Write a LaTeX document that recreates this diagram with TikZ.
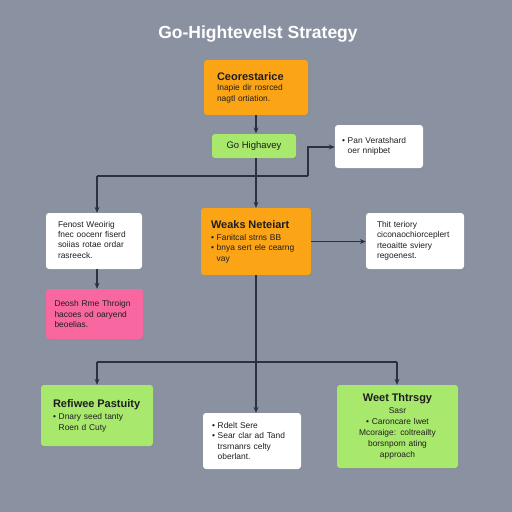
\documentclass[tikz,border=0pt]{standalone}
\usepackage{fontspec}
\setmainfont{Liberation Sans}
\usetikzlibrary{shadows,arrows.meta}
\definecolor{bg}{HTML}{8A92A2}
\definecolor{orng}{HTML}{FBA416}
\definecolor{grn}{HTML}{A8E86C}
\definecolor{pnk}{HTML}{F8679F}
\definecolor{ln}{HTML}{2C3142}
\definecolor{txt}{HTML}{1E1E1E}
\tikzset{
  box/.style={rounded corners=3pt, inner sep=0pt, align=left, text=txt,
    font=\fontsize{8.4}{10.4}\selectfont,
    drop shadow={opacity=0.22, shadow xshift=1.2pt, shadow yshift=-1.6pt}},
  wbox/.style={box, fill=white},
  obox/.style={box, fill=orng},
  gbox/.style={box, fill=grn},
  pbox/.style={box, fill=pnk},
  conn/.style={draw=ln, line width=1.3pt},
  arr/.style={conn, -{Stealth[length=6pt,width=5pt]}}
}
\newcommand{\hdt}[1]{{\fontsize{11}{13.5}\selectfont\bfseries #1}}
\begin{document}
\begin{tikzpicture}[x=1pt,y=-1pt]
\fill[bg] (0,0) rectangle (512,512);
\useasboundingbox (0,0) rectangle (512,512);
\node[text=white, font=\fontsize{17.5}{20}\selectfont\bfseries] (title) at (258,34) {Go-Hightevelst Strategy};

\node[obox, minimum width=104pt, minimum height=55pt, text width=78pt] (A) at (256,87.5)
  {\hdt{Ceorestarice}\\Inapie dir rosrced\\nagtl ortiation.};
\node[gbox, minimum width=84pt, minimum height=24pt, align=center, font=\fontsize{9.5}{11}\selectfont] (B) at (254,146) {Go Highavey};
\node[wbox, minimum width=88pt, minimum height=43pt, text width=74pt] (C) at (379,146.5)
  {• Pan Veratshard\\\phantom{• }oer nnipbet};
\node[obox, minimum width=110pt, minimum height=67pt, text width=90pt] (D) at (256,241.5)
  {\hdt{Weaks Neteiart}\\[2pt]• Fanitcal strns BB\\• bnya sert ele cearng\\\phantom{• }vay};
\node[wbox, minimum width=96pt, minimum height=56pt, text width=72pt] (E) at (94,241)
  {\\[-7pt]Fenost Weoirig\\fnec oocenr fiserd\\soiias rotae ordar\\rasreeck.};
\node[wbox, minimum width=98pt, minimum height=56pt, text width=76pt] (F) at (415,241)
  {Thit teriory\\ciconaochiorceplert\\rteoaitte sviery\\regoenest.};
\node[pbox, minimum width=97pt, minimum height=50pt, text width=80pt] (G) at (94.5,314)
  {Deosh Rme Throign\\hacoes od oaryend\\beoelias.};
\node[gbox, minimum width=112pt, minimum height=61pt, text width=88pt] (H) at (97,415.5)
  {\hdt{Refiwee Pastuity}\\[2pt]• Dnary seed tanty\\\phantom{• }Roen d Cuty};
\node[wbox, minimum width=98pt, minimum height=56pt, text width=80pt] (I) at (252,441)
  {• Rdelt Sere\\• Sear clar ad Tand\\\phantom{• }trsrnanrs celty\\\phantom{• }oberlant.};
\node[gbox, minimum width=121pt, minimum height=83pt, text width=112pt, align=center, font=\fontsize{8.4}{11}\selectfont] (J) at (397.5,426.5)
  {\hdt{Weet Thtrsgy}\\[1pt]Sasr\\• Caroncare lwet\\Mcoraige: coltreailty\\borsnporn ating\\approach};

\coordinate (jL) at (97,176);
\coordinate (jR) at (308,176);
\coordinate (jRu) at (308,147);
\coordinate (kL) at (97,362);
\coordinate (kM) at (256,362);
\coordinate (kR) at (397,362);

\draw[arr] (A.south -| 256,0) -- (256,133.5);
\draw[arr] (256,158) -- (D.north -| 256,0);
\draw[conn] (jL) -- (jR);
\draw[arr] (jL) -- (E.north -| jL);
\draw[arr] (jR) -- (jRu) -- (C.west |- jRu);
\draw[arr] (D.east) -- (F.west |- D.east);
\draw[arr] (E.south -| 97,0) -- (G.north -| 97,0);
\draw[conn] (D.south -| kM) -- (kM);
\draw[conn] (kL) -- (kR);
\draw[arr] (kL) -- (H.north -| kL);
\draw[arr] (kR) -- (J.north -| kR);
\draw[arr] (kM) -- (I.north -| kM);
\end{tikzpicture}
\end{document}
